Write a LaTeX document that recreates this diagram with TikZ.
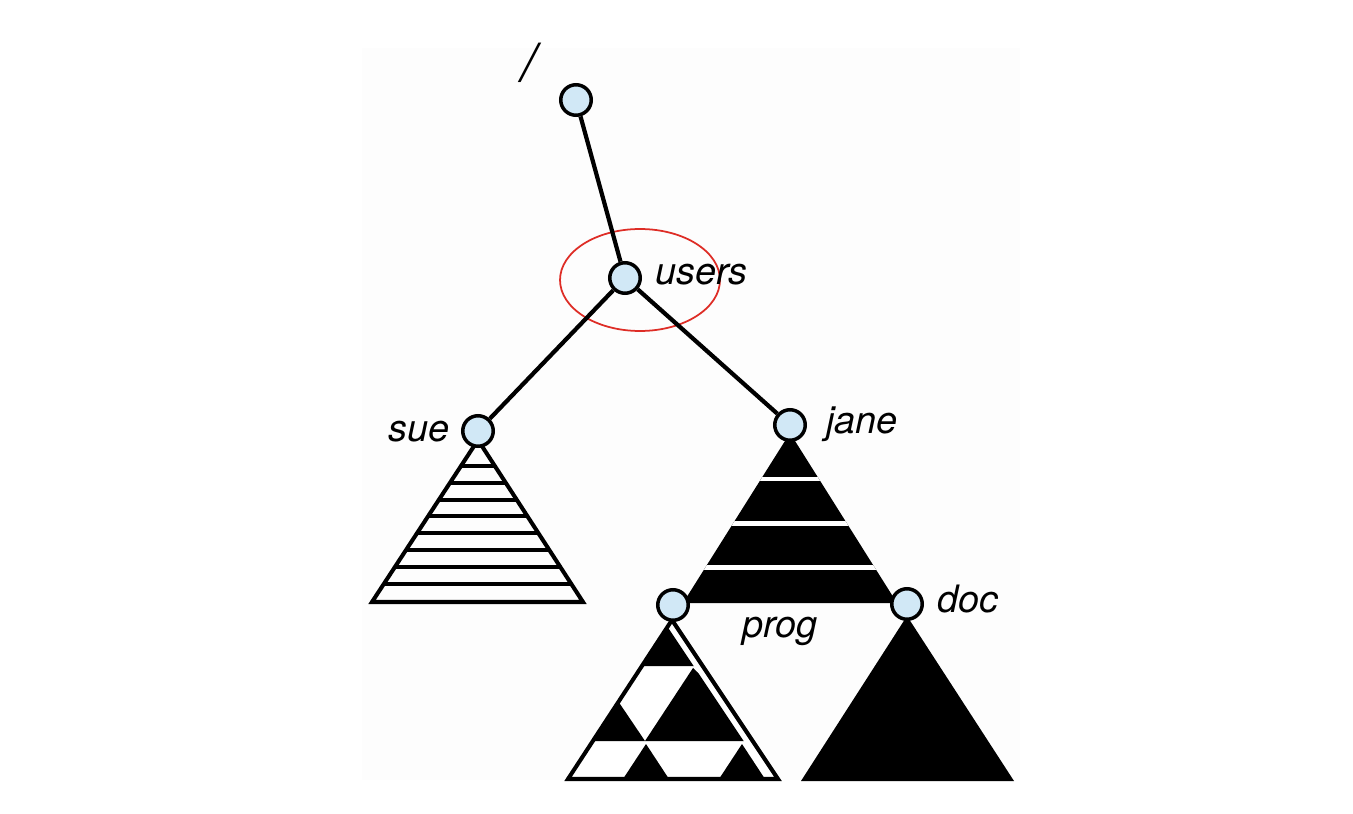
\documentclass[tikz,border=0pt]{standalone}
\usepackage{fontspec}
\setmainfont{TeX Gyre Heros}
\usetikzlibrary{shapes.geometric}
\definecolor{dirblue}{RGB}{209,232,246}
\definecolor{markred}{RGB}{222,45,38}
\definecolor{paper}{RGB}{253,253,253}

\begin{document}
\begin{tikzpicture}[x=0.02cm, y=-0.02cm,
        dir/.style={circle, draw, line width=2pt, fill=dirblue, minimum size=0.61cm, inner sep=0pt},
        lbl/.style={anchor=base west, inner sep=0pt, font=\fontsize{21.5}{26}\selectfont\itshape},
        link/.style={line width=2.4pt},
        tri/.style={line width=2.3pt, line join=miter}]

    \useasboundingbox (0,0) rectangle (1353,814);
    \fill[paper] (362,48) rectangle (1020,780);

    % sue
    \begin{scope}
        \clip (478,440) -- (372,602) -- (583,602) -- cycle;
        \foreach \i in {0,...,7}
            \draw[line width=2.3pt] (360,{466+16.8*\i}) -- (600,{466+16.8*\i});
    \end{scope}
    \draw[tri] (478,440) -- (372,602) -- (583,602) -- cycle;

    % jane
    \fill (790,433) -- (683,603) -- (897,603) -- cycle;
    \begin{scope}
        \clip (790,433) -- (683,603) -- (897,603) -- cycle;
        \foreach \y in {479,523.5,567.5}
            \draw[white, line width=2.8pt] (670,\y) -- (910,\y);
    \end{scope}

    % prog
    \fill[white] (672,620) -- (568,779) -- (778,779) -- cycle;
    \begin{scope}
        \clip (667.5,626.8) -- (568,779) -- (769,779) -- cycle;
        \fill (672,610) -- (636,666) -- (710,666) -- cycle;
        \fill (645,741) -- (618,701) -- (580,741) -- cycle;
        \fill (693,668) -- (645,741) -- (770,741) -- cycle;
        \fill (646,744) -- (623,779) -- (669,779) -- cycle;
        \fill (742,744) -- (719,779) -- (765,779) -- cycle;
    \end{scope}
    \draw[tri] (672,620) -- (568,779) -- (778,779) -- cycle;

    % doc
    \fill (907,616) -- (801,781) -- (1014,781) -- cycle;

    \node[dir] (root)  at (576,100) {};
    \node[dir] (users) at (625,278) {};
    \node[dir] (sue)   at (478,431) {};
    \node[dir] (jane)  at (790,425) {};
    \node[dir] (prog)  at (673,605) {};
    \node[dir] (doc)   at (907,604) {};

    \node[draw=markred, line width=1pt, ellipse, minimum width=3.2cm, minimum height=2.04cm] (mark) at (640,280) {};

    \draw[link] (root)  -- (users);
    \draw[link] (users) -- (sue);
    \draw[link] (users) -- (jane);

    \node[lbl, font=\fontsize{30}{36}\selectfont\itshape] (rootname) at (521,82) {/};
    \node[lbl] (usersname) at (655,285) {users};
    \node[lbl] (suename)   at (388,441) {sue};
    \node[lbl] (janename)  at (826,433) {jane};
    \node[lbl] (progname)  at (742,637) {prog};
    \node[lbl] (docname)   at (937,612) {doc};

\end{tikzpicture}
\end{document}
